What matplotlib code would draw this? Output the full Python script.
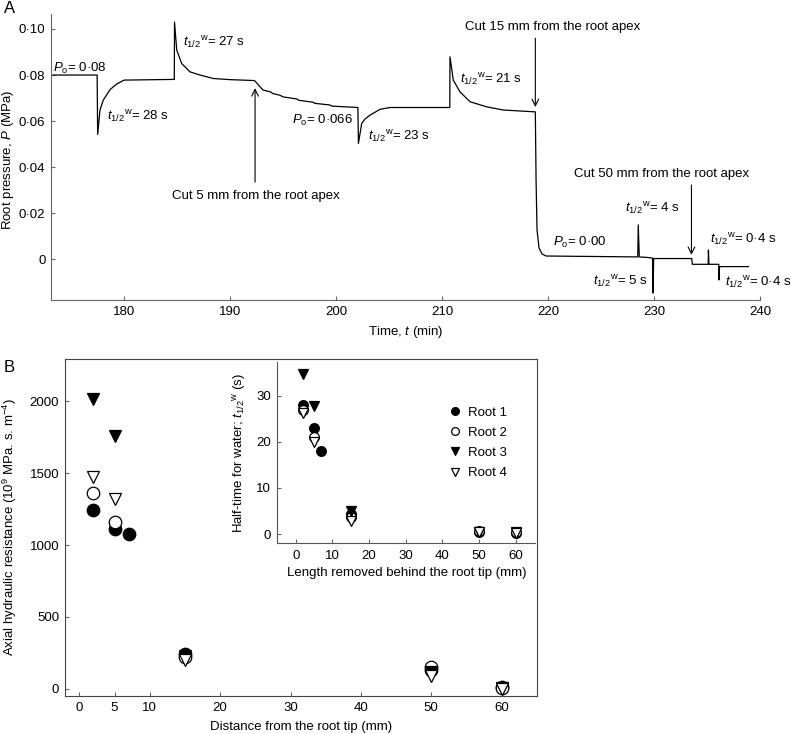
#!/usr/bin/env python3
import matplotlib
matplotlib.use("Agg")
import matplotlib.pyplot as plt
from matplotlib.ticker import FuncFormatter

plt.rcParams["font.family"] = ["Liberation Sans", "DejaVu Sans"]
plt.rcParams["font.size"] = 9.5
plt.rcParams["mathtext.fontset"] = "custom"
plt.rcParams["mathtext.rm"] = "Liberation Sans"
plt.rcParams["mathtext.it"] = "Liberation Sans:italic"

# panel A: root pressure trace
time_min = [173.3, 177.45, 177.5, 177.72, 178.03, 178.67, 179.3, 180.0, 184.73,
            184.75, 184.96, 185.43, 186.2, 187.16, 188.38, 190.0, 192.3, 192.44,
            192.8, 193.1, 193.8, 194.0, 194.7, 195.0, 196.3, 196.5, 197.8, 198.0,
            199.4, 199.6, 202.05, 202.1, 202.41, 202.72, 203.2, 204.14, 205.08,
            210.72, 210.74, 211.05, 211.68, 212.63, 214.2, 215.77, 218.79, 218.86,
            218.95, 219.14, 219.42, 219.8, 228.45, 228.5, 228.6, 229.3, 229.85,
            229.9, 229.95, 233.55, 233.6, 235.1, 235.12, 235.17, 236.1, 236.12,
            236.17, 238.9]
pressure = [0.0800, 0.0800, 0.0542, 0.0648, 0.0691, 0.0737, 0.0761, 0.0778, 0.0781,
            0.1030, 0.0908, 0.0850, 0.0814, 0.0800, 0.0785, 0.0780, 0.0776, 0.0769,
            0.0750, 0.0735, 0.0727, 0.0720, 0.0712, 0.0705, 0.0696, 0.0690, 0.0682,
            0.0677, 0.0670, 0.0665, 0.0659, 0.0503, 0.0590, 0.0609, 0.0626, 0.0651,
            0.0659, 0.0659, 0.0879, 0.0778, 0.0727, 0.0684, 0.0662, 0.0648, 0.0640,
            0.0344, 0.0127, 0.0049, 0.0023, 0.0014, 0.0010, 0.0149, 0.0010, 0.0008,
            0.0005, -0.0147, 0.0003, 0.0003, -0.0022, -0.0022, 0.0040, -0.0022,
            -0.0022, -0.0090, -0.0032, -0.0032]

# panel B: axial resistance vs distance from tip
dist = {
    "Root 1": [2, 5, 7, 15, 50, 60],
    "Root 2": [2, 5, 15, 50, 60],
    "Root 3": [2, 5, 15, 50, 60],
    "Root 4": [2, 5, 15, 50, 60],
}
resist = {
    "Root 1": [1245, 1115, 1080, 241, 130, 10],
    "Root 2": [1362, 1158, 218, 155, 5],
    "Root 3": [2015, 1757, 230, 118, 5],
    "Root 4": [1475, 1322, 202, 86, 0],
}
# inset: half-time for water vs length removed
halftime = {
    "Root 1": [28, 23, 18, 4.3, 0.5, 0.3],
    "Root 2": [27, 21, 3.7, 0.6, 0.4],
    "Root 3": [34.8, 27.8, 5.0, 0.5, 0.4],
    "Root 4": [26.2, 20.0, 2.9, 0.4, 0.3],
}
styles = {
    "Root 1": ("o", "black"),
    "Root 2": ("o", "white"),
    "Root 3": ("v", "black"),
    "Root 4": ("v", "white"),
}

T12 = r"$t_{1/2}{}^{\rm w}$"
DOT = "\u00b7"


def dotfmt(v, pos):
    if abs(v) < 1e-9:
        return "0"
    return ("%.2f" % v).replace(".", DOT)


fig = plt.figure(figsize=(7.91, 7.34), dpi=100)

# ---------------- A ----------------
axA = fig.add_axes([0.0645, 0.5913, 0.8965, 0.3896])
axA.plot(time_min, pressure, color="black", lw=0.9)
axA.set_xlim(173.1, 240)
axA.set_ylim(-0.0177, 0.1065)
axA.set_xticks([180, 190, 200, 210, 220, 230, 240])
axA.set_yticks([0, 0.02, 0.04, 0.06, 0.08, 0.10])
axA.yaxis.set_major_formatter(FuncFormatter(dotfmt))
for s in ["top", "right"]:
    axA.spines[s].set_visible(False)
for s in ["left", "bottom"]:
    axA.spines[s].set_color("#666666")
axA.tick_params(direction="in", length=3, color="#666666", pad=4)
axA.set_xlabel(r"Time, $t$ (min)", va="center")
axA.xaxis.set_label_coords(0.5, -0.111)
axA.set_ylabel(r"Root pressure, $P$ (MPa)", va="center")
axA.yaxis.set_label_coords(-0.06, 0.49)

txt = [
    (173.29, 0.0830, r"$P_{\rm o}$= 0" + DOT + "08", "left"),
    (178.4, 0.0617, T12 + "= 28 s", "left"),
    (185.55, 0.0938, T12 + "= 27 s", "left"),
    (201.59, 0.0604, r"$P_{\rm o}$= 0" + DOT + "066", "right"),
    (203.0, 0.0531, T12 + "= 23 s", "left"),
    (211.69, 0.0778, T12 + "= 21 s", "left"),
    (220.46, 0.0071, r"$P_{\rm o}$= 0" + DOT + "00", "left"),
    (227.25, 0.0218, T12 + "= 4 s", "left"),
    (224.23, -0.0098, T12 + "= 5 s", "left"),
    (235.27, 0.0084, T12 + "= 0" + DOT + "4 s", "left"),
    (236.7, -0.0103, T12 + "= 0" + DOT + "4 s", "left"),
]
for x, y, s, ha in txt:
    axA.text(x, y, s, ha=ha, va="center")

arrows = [
    ("Cut 5 mm from the root apex", 192.35, 0.0335, 0.0743, 192.44, 0.0275),
    ("Cut 15 mm from the root apex", 218.79, 0.0960, 0.0661, 220.46, 0.1008),
    ("Cut 50 mm from the root apex", 233.52, 0.0322, 0.0019, 230.74, 0.0370),
]
for s, x, y0, y1, tx, ty in arrows:
    axA.annotate("", xy=(x, y1), xytext=(x, y0),
                 arrowprops=dict(arrowstyle="->", color="black", lw=0.8,
                                 shrinkA=0, shrinkB=0,
                                 mutation_scale=12))
    axA.text(tx, ty, s, ha="center", va="center")

fig.text(0.005, 0.989, "A", fontsize=12, va="center")

# ---------------- B ----------------
axB = fig.add_axes([0.0826, 0.0518, 0.5960, 0.4591])
for r in dist:
    m, fc = styles[r]
    axB.plot(dist[r], resist[r], ls="none", marker=m, ms=9, mfc=fc,
             mec="black", mew=0.9)
axB.set_xlim(-2, 65)
axB.set_ylim(-50, 2295)
axB.set_xticks([0, 5, 10, 20, 30, 40, 50, 60])
axB.set_yticks([0, 500, 1000, 1500, 2000])
for s in axB.spines.values():
    s.set_color("#444444")
axB.tick_params(direction="in", length=3, color="#666666", pad=4.5)
axB.set_xlabel("Distance from the root tip (mm)", va="center")
axB.xaxis.set_label_coords(0.5, -0.091)
axB.set_ylabel(r"Axial hydraulic resistance (10$^{9}$ MPa. s. m$^{-4}$)",
               va="center")
axB.yaxis.set_label_coords(-0.118, 0.5)

fig.text(0.005, 0.5, "B", fontsize=12, va="center")

axI = fig.add_axes([0.3508, 0.2598, 0.3256, 0.2470])
for r in dist:
    m, fc = styles[r]
    axI.plot(dist[r], halftime[r], ls="none", marker=m, ms=7, mfc=fc,
             mec="black", mew=0.9, label=r)
axI.set_xlim(-5, 65.3)
axI.set_ylim(-2, 37.3)
axI.set_xticks([0, 10, 20, 30, 40, 50, 60])
axI.set_yticks([0, 10, 20, 30])
for s in ["top", "right"]:
    axI.spines[s].set_visible(False)
for s in ["left", "bottom"]:
    axI.spines[s].set_color("#555555")
axI.tick_params(direction="in", length=3, color="#666666", pad=4.5)
axI.set_xlabel("Length removed behind the root tip (mm)", va="center")
axI.xaxis.set_label_coords(0.5, -0.162)
axI.set_ylabel("Half-time for water; " + T12 + " (s)", va="center")
axI.yaxis.set_label_coords(-0.146, 0.5)
axI.legend(loc="upper left", bbox_to_anchor=(448.7 / 791, 1 - 406.5 / 734),
           bbox_transform=fig.transFigure, frameon=False, borderpad=0,
           borderaxespad=0, handlelength=1.0, handletextpad=0.5,
           labelspacing=0.6, markerscale=0.8)

fig.savefig("out.png", dpi=100)
